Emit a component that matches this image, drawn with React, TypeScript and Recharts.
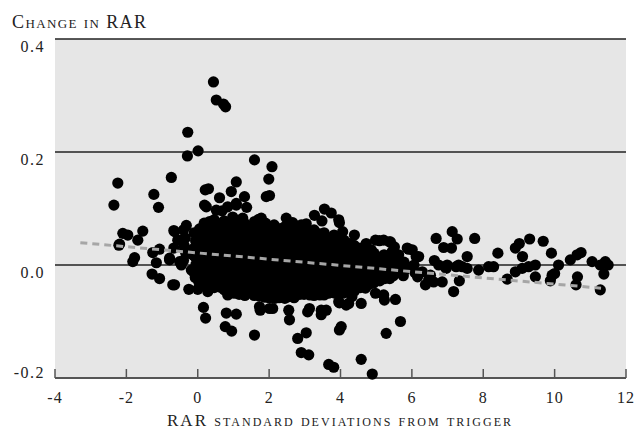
import { CartesianGrid, Scatter, ScatterChart, XAxis, YAxis } from 'recharts'

type Pt = [number, number]

// points well above the main cloud
const upperOutliers: Pt[] = [
  [0.44, 0.324], [0.52, 0.292], [0.72, 0.285], [0.78, 0.28], [-0.28, 0.235],
  [0.01, 0.202], [-0.29, 0.193], [1.59, 0.186], [2.08, 0.174], [1.99, 0.152],
  [1.92, 0.121], [2.01, 0.123], [1.31, 0.121], [1.37, 0.102], [1.08, 0.147],
  [0.94, 0.13], [1.08, 0.109], [0.21, 0.133], [0.3, 0.135], [0.61, 0.119],
  [0.24, 0.103], [0.68, 0.096], [0.19, 0.106], [0.52, 0.097], [0.84, 0.103],
  [1.08, 0.106], [-0.74, 0.155], [-1.23, 0.125], [-1.1, 0.102],
  [-2.24, 0.145], [-2.35, 0.106], [0.98, 0.085], [1.22, 0.08],
]

// left tail, x below zero
const leftTail: Pt[] = [
  [-2.1, 0.056], [-1.96, 0.053], [-1.54, 0.06], [-1.68, 0.044], [-2.19, 0.037],
  [-2.21, 0.035], [-1.77, 0.013], [-1.82, 0.006], [-1.26, 0.022], [-1.07, 0.028],
  [-0.67, 0.061], [-0.32, 0.07], [-0.65, 0.059], [-0.56, 0.044], [-0.79, 0.009],
  [-0.37, 0.027], [-0.46, 0.0], [-1.16, 0.004], [-0.67, 0.03], [-0.37, 0.047],
  [-0.14, 0.018], [-0.18, -0.009], [-0.51, 0.006], [-0.79, 0.012],
  [-1.28, -0.016], [-1.07, -0.024], [-0.65, -0.035], [-0.7, -0.035],
  [-0.25, -0.043], [0.0, -0.043], [0.28, -0.047], [0.7, -0.03],
  [-0.4, 0.062], [-0.35, 0.048], [-0.38, 0.034], [-0.33, 0.02], [-0.4, 0.008],
]

// the dense cloud, column by column
const coreCloud: Pt[] = [
  [-0.1, 0.057], [-0.06, 0.043], [-0.12, 0.029], [-0.08, 0.015], [-0.05, 0.001], [-0.11, -0.013], [-0.07, -0.022],
  [0.18, 0.074], [0.21, 0.06], [0.17, 0.046], [0.2, 0.032], [0.16, 0.018], [0.22, 0.004], [0.19, -0.01], [0.15, -0.024], [0.21, -0.035],
  [0.46, 0.08], [0.49, 0.067], [0.44, 0.053], [0.48, 0.039], [0.45, 0.025], [0.5, 0.011], [0.47, -0.003], [0.43, -0.017], [0.49, -0.031], [0.46, -0.04],
  [0.74, 0.078], [0.77, 0.064], [0.72, 0.05], [0.76, 0.036], [0.73, 0.022], [0.78, 0.008], [0.75, -0.006], [0.71, -0.02], [0.77, -0.034], [0.74, -0.044],
  [1.02, 0.074], [1.05, 0.06], [1.0, 0.046], [1.04, 0.032], [1.01, 0.018], [1.06, 0.004], [1.03, -0.01], [0.99, -0.024], [1.05, -0.038], [1.02, -0.05],
  [1.3, 0.075], [1.33, 0.067], [1.29, 0.053], [1.32, 0.039], [1.28, 0.025], [1.34, 0.011], [1.31, -0.003], [1.27, -0.017], [1.33, -0.031], [1.3, -0.045], [1.32, -0.054],
  [1.58, 0.071], [1.61, 0.057], [1.56, 0.043], [1.6, 0.029], [1.57, 0.015], [1.62, 0.001], [1.59, -0.013], [1.55, -0.027], [1.61, -0.041], [1.58, -0.054],
  [1.86, 0.072], [1.89, 0.064], [1.84, 0.05], [1.88, 0.036], [1.85, 0.022], [1.9, 0.008], [1.87, -0.006], [1.83, -0.02], [1.89, -0.034], [1.86, -0.048], [1.88, -0.057],
  [2.14, 0.071], [2.17, 0.057], [2.12, 0.043], [2.16, 0.029], [2.13, 0.015], [2.18, 0.001], [2.15, -0.013], [2.11, -0.027], [2.17, -0.041], [2.14, -0.055], [2.16, -0.059],
  [2.42, 0.067], [2.45, 0.06], [2.4, 0.046], [2.44, 0.032], [2.41, 0.018], [2.46, 0.004], [2.43, -0.01], [2.39, -0.024], [2.45, -0.038], [2.42, -0.052], [2.44, -0.059],
  [2.7, 0.067], [2.73, 0.053], [2.68, 0.039], [2.72, 0.025], [2.69, 0.011], [2.74, -0.003], [2.71, -0.017], [2.67, -0.031], [2.73, -0.045], [2.7, -0.058],
  [2.98, 0.066], [3.01, 0.06], [2.96, 0.046], [3.0, 0.032], [2.97, 0.018], [3.02, 0.004], [2.99, -0.01], [2.95, -0.024], [3.01, -0.038], [2.98, -0.052],
  [3.26, 0.062], [3.29, 0.048], [3.24, 0.034], [3.28, 0.02], [3.25, 0.006], [3.3, -0.008], [3.27, -0.022], [3.23, -0.036], [3.29, -0.05], [3.26, -0.054],
  [3.54, 0.057], [3.57, 0.05], [3.52, 0.036], [3.56, 0.022], [3.53, 0.008], [3.58, -0.006], [3.55, -0.02], [3.51, -0.034], [3.57, -0.048], [3.54, -0.053],
  [3.82, 0.053], [3.85, 0.039], [3.8, 0.025], [3.84, 0.011], [3.81, -0.003], [3.86, -0.017], [3.83, -0.031], [3.79, -0.045], [3.85, -0.05],
  [4.1, 0.044], [4.13, 0.032], [4.08, 0.018], [4.12, 0.004], [4.09, -0.01], [4.14, -0.024], [4.11, -0.038], [4.07, -0.05],
  [4.38, 0.035], [4.41, 0.021], [4.36, 0.007], [4.4, -0.007], [4.37, -0.021], [4.42, -0.035], [4.39, -0.046],
  [4.66, 0.027], [4.69, 0.014], [4.64, 0.0], [4.68, -0.014], [4.65, -0.028], [4.7, -0.041],
  [4.94, 0.021], [4.97, 0.007], [4.92, -0.007], [4.96, -0.021], [4.93, -0.032],
  [5.22, 0.018], [5.25, 0.004], [5.2, -0.01], [5.24, -0.024],
  [5.5, 0.009], [5.53, -0.005], [5.48, -0.019],
  [5.78, 0.005], [5.81, -0.009], [5.76, -0.019],
  [6.06, 0.0], [6.09, -0.014],
]

// second pass through the cloud, between the columns above
const coreFill: Pt[] = [
  [0.05, 0.064], [0.07, 0.05], [0.03, 0.036], [0.06, 0.022], [0.04, 0.008], [0.08, -0.006], [0.05, -0.02], [0.03, -0.03],
  [0.33, 0.077], [0.35, 0.063], [0.31, 0.049], [0.34, 0.035], [0.32, 0.021], [0.36, 0.007], [0.33, -0.007], [0.3, -0.021], [0.34, -0.035],
  [0.61, 0.073], [0.63, 0.059], [0.59, 0.045], [0.62, 0.031], [0.6, 0.017], [0.64, 0.003], [0.61, -0.011], [0.58, -0.025], [0.62, -0.039],
  [0.89, 0.071], [0.91, 0.057], [0.87, 0.043], [0.9, 0.029], [0.88, 0.015], [0.92, 0.001], [0.89, -0.013], [0.86, -0.027], [0.9, -0.041], [0.88, -0.047],
  [1.17, 0.068], [1.19, 0.054], [1.15, 0.04], [1.18, 0.026], [1.16, 0.012], [1.2, -0.002], [1.17, -0.016], [1.14, -0.03], [1.18, -0.044], [1.16, -0.052],
  [1.45, 0.064], [1.47, 0.05], [1.43, 0.036], [1.46, 0.022], [1.44, 0.008], [1.48, -0.006], [1.45, -0.02], [1.42, -0.034], [1.46, -0.048],
  [1.73, 0.067], [1.75, 0.053], [1.71, 0.039], [1.74, 0.025], [1.72, 0.011], [1.76, -0.003], [1.73, -0.017], [1.7, -0.031], [1.74, -0.045], [1.72, -0.055],
  [2.01, 0.066], [2.03, 0.05], [1.99, 0.036], [2.02, 0.022], [2.0, 0.008], [2.04, -0.006], [2.01, -0.02], [1.98, -0.034], [2.02, -0.048], [2.0, -0.058],
  [2.29, 0.064], [2.31, 0.05], [2.27, 0.036], [2.3, 0.022], [2.28, 0.008], [2.32, -0.006], [2.29, -0.02], [2.26, -0.034], [2.3, -0.048], [2.28, -0.058],
  [2.57, 0.063], [2.59, 0.053], [2.55, 0.039], [2.58, 0.025], [2.56, 0.011], [2.6, -0.003], [2.57, -0.017], [2.54, -0.031], [2.58, -0.045], [2.56, -0.056],
  [2.85, 0.06], [2.87, 0.046], [2.83, 0.032], [2.86, 0.018], [2.84, 0.004], [2.88, -0.01], [2.85, -0.024], [2.82, -0.038], [2.86, -0.052],
  [3.13, 0.055], [3.15, 0.041], [3.11, 0.027], [3.14, 0.013], [3.12, -0.001], [3.16, -0.015], [3.13, -0.029], [3.1, -0.043], [3.14, -0.053],
  [3.41, 0.055], [3.43, 0.041], [3.39, 0.027], [3.42, 0.013], [3.4, -0.001], [3.44, -0.015], [3.41, -0.029], [3.38, -0.043], [3.42, -0.053],
  [3.69, 0.046], [3.71, 0.032], [3.67, 0.018], [3.7, 0.004], [3.68, -0.01], [3.72, -0.024], [3.69, -0.038], [3.66, -0.05],
  [3.97, 0.046], [3.99, 0.032], [3.95, 0.018], [3.98, 0.004], [3.96, -0.01], [4.0, -0.024], [3.97, -0.038], [3.94, -0.05],
  [4.25, 0.038], [4.27, 0.025], [4.23, 0.011], [4.26, -0.003], [4.24, -0.017], [4.28, -0.031], [4.25, -0.044],
  [4.53, 0.028], [4.55, 0.014], [4.51, 0.0], [4.54, -0.014], [4.52, -0.028], [4.56, -0.04],
  [4.81, 0.02], [4.83, 0.006], [4.79, -0.008], [4.82, -0.022], [4.8, -0.034],
  [5.09, 0.012], [5.11, -0.002], [5.07, -0.016], [5.1, -0.028],
  [5.37, 0.011], [5.39, -0.003], [5.35, -0.017], [5.38, -0.024],
  [5.65, 0.002], [5.67, -0.012],
  [5.93, -0.004],
]

// ragged top edge of the cloud
const upperEdge: Pt[] = [
  [1.71, 0.081], [1.9, 0.074], [2.48, 0.083], [2.66, 0.075], [3.04, 0.073],
  [3.27, 0.088], [3.55, 0.099], [3.74, 0.092], [3.48, 0.078], [3.97, 0.075],
  [3.95, 0.08], [4.06, 0.059], [3.97, 0.044], [4.39, 0.053], [4.72, 0.038],
  [4.86, 0.027], [5.09, 0.043], [5.37, 0.041], [5.51, 0.032], [5.91, 0.028],
  [6.12, 0.015], [3.32, 0.056], [2.38, 0.062], [2.1, 0.059], [1.26, 0.083],
  [1.59, 0.077], [1.78, 0.083], [2.9, 0.071], [4.51, 0.03], [4.7, 0.035],
  [4.98, 0.044], [5.21, 0.044], [5.4, 0.041], [5.45, 0.024], [5.63, 0.018],
  [5.87, 0.03], [6.01, 0.027], [6.19, 0.015],
]

// below the cloud
const lowerOutliers: Pt[] = [
  [0.16, -0.075], [0.22, -0.094], [0.8, -0.085], [1.08, -0.087], [0.77, -0.109],
  [0.95, -0.117], [1.59, -0.124], [1.75, -0.08], [2.1, -0.077], [1.73, -0.074],
  [2.01, -0.077], [0.84, -0.053], [2.57, -0.097], [2.55, -0.08], [3.08, -0.083],
  [3.13, -0.077], [3.46, -0.088], [3.46, -0.08], [3.6, -0.08], [2.8, -0.13],
  [3.04, -0.12], [2.9, -0.155], [3.11, -0.159], [3.67, -0.176], [3.81, -0.181],
  [3.97, -0.115], [4.02, -0.109], [4.58, -0.167], [4.89, -0.193], [5.28, -0.121],
  [5.68, -0.1], [5.23, -0.062], [5.54, -0.061], [4.16, -0.071], [3.97, -0.067],
  [4.58, -0.068], [3.95, -0.065], [4.23, -0.068], [4.32, -0.056], [4.98, -0.05],
  [5.21, -0.053],
]

// thinner spread right of x = 6
const rightTail: Pt[] = [
  [6.68, 0.047], [7.13, 0.059], [7.27, 0.046], [6.89, 0.031], [7.11, 0.03],
  [7.76, 0.047], [8.41, 0.021], [7.55, 0.015], [6.63, 0.008], [8.9, 0.03],
  [9.01, 0.038], [9.3, 0.046], [9.68, 0.042], [9.1, 0.015], [9.91, 0.021],
  [9.46, 0.0], [9.27, -0.003], [9.09, -0.006], [8.9, -0.012], [8.67, -0.025],
  [9.46, -0.021], [9.93, -0.018], [10.0, -0.015], [9.88, -0.028], [10.11, 0.0],
  [10.44, 0.009], [10.63, 0.018], [10.74, 0.022], [10.64, -0.021], [10.6, -0.035],
  [11.05, 0.006], [11.28, 0.0], [11.42, 0.006], [11.5, 0.0], [11.38, -0.016],
  [11.28, -0.044], [7.17, -0.047], [7.33, -0.028], [6.38, -0.035], [6.61, -0.03],
  [6.85, -0.03], [6.52, -0.018], [7.87, -0.009], [8.15, -0.003], [8.29, -0.003],
  [7.41, -0.003], [7.55, -0.006], [7.31, 0.0], [6.99, 0.0], [6.75, 0.0],
  [6.29, -0.012], [6.47, -0.027], [6.16, -0.021], [6.49, -0.024], [6.96, -0.006],
  [7.24, -0.003],
]

const trendLine: Pt[] = [[-3.29, 0.0395], [11.3, -0.041]]

const xTicks = [-4, -2, 0, 2, 4, 6, 8, 10, 12]
const yTicks = [-0.2, 0, 0.2, 0.4]

const yTitle = 'Change in RAR'
const xTitle = 'RAR standard deviations from trigger'

const FONT = "'Liberation Serif', 'Times New Roman', serif"

const toRows = (pts: Pt[]) => pts.map(([x, y]) => ({ x, y }))

const points = toRows([
  ...upperOutliers, ...leftTail, ...coreCloud, ...coreFill, ...upperEdge, ...lowerOutliers, ...rightTail,
])
const trend = toRows(trendLine)

function Dot(props: any) {
  const { cx, cy } = props
  if (cx == null || cy == null) return null
  return <circle cx={cx} cy={cy} r={5.6} fill="#000" />
}

function XTick(props: any) {
  const { x, y, payload } = props
  return (
    <g>
      <line x1={x} y1={y - 9} x2={x} y2={y} stroke="#555" strokeWidth={1.5} />
      <text x={x} y={y + 25} textAnchor="middle" fontFamily={FONT} fontSize={16} fill="#222" letterSpacing={1}>
        {String(payload.value)}
      </text>
    </g>
  )
}

function YTick(props: any) {
  const { x, y, payload } = props
  const v = Number(payload.value)
  const dy = v === -0.2 ? 0 : 12.5
  return (
    <text x={x - 10} y={y + dy} textAnchor="end" fontFamily={FONT} fontSize={16} fill="#222" letterSpacing={1.5}>
      {v.toFixed(1)}
    </text>
  )
}

export default function App() {
  return (
    <div style={{ position: 'absolute', left: 0, top: 0, width: 636, height: 429, background: '#fff' }}>
      <ScatterChart width={636} height={429} margin={{ top: 39, right: 10, bottom: 0, left: 0 }}>
        <CartesianGrid fill="#e6e6e6" vertical={false} stroke="#222" strokeWidth={1.3} />
        <XAxis
          type="number"
          dataKey="x"
          domain={[-4, 12]}
          ticks={xTicks}
          height={51}
          tickSize={0}
          tickMargin={0}
          tickLine={false}
          axisLine={{ stroke: '#555', strokeWidth: 2 }}
          tick={<XTick />}
          interval={0}
        />
        <YAxis
          type="number"
          dataKey="y"
          domain={[-0.2, 0.4]}
          ticks={yTicks}
          width={55}
          tickSize={0}
          tickMargin={0}
          tickLine={false}
          axisLine={false}
          tick={<YTick />}
          interval={0}
        />
        <Scatter data={points} shape={<Dot />} isAnimationActive={false} />
        <Scatter
          data={trend}
          shape={() => <g />}
          line={{ stroke: '#a6a6a6', strokeWidth: 3, strokeDasharray: '7 5' }}
          isAnimationActive={false}
        />
      </ScatterChart>
      <svg width={636} height={429} style={{ position: 'absolute', left: 0, top: 0, pointerEvents: 'none' }}>
        <text x={12} y={28} fontFamily={FONT} fontSize={18} fill="#222" style={{ fontVariant: 'small-caps' }} textLength={134} lengthAdjust="spacing">
          {yTitle}
        </text>
        <text x={167} y={426} fontFamily={FONT} fontSize={17} fill="#222" style={{ fontVariant: 'small-caps' }} textLength={344} lengthAdjust="spacing">
          {xTitle}
        </text>
      </svg>
    </div>
  )
}
